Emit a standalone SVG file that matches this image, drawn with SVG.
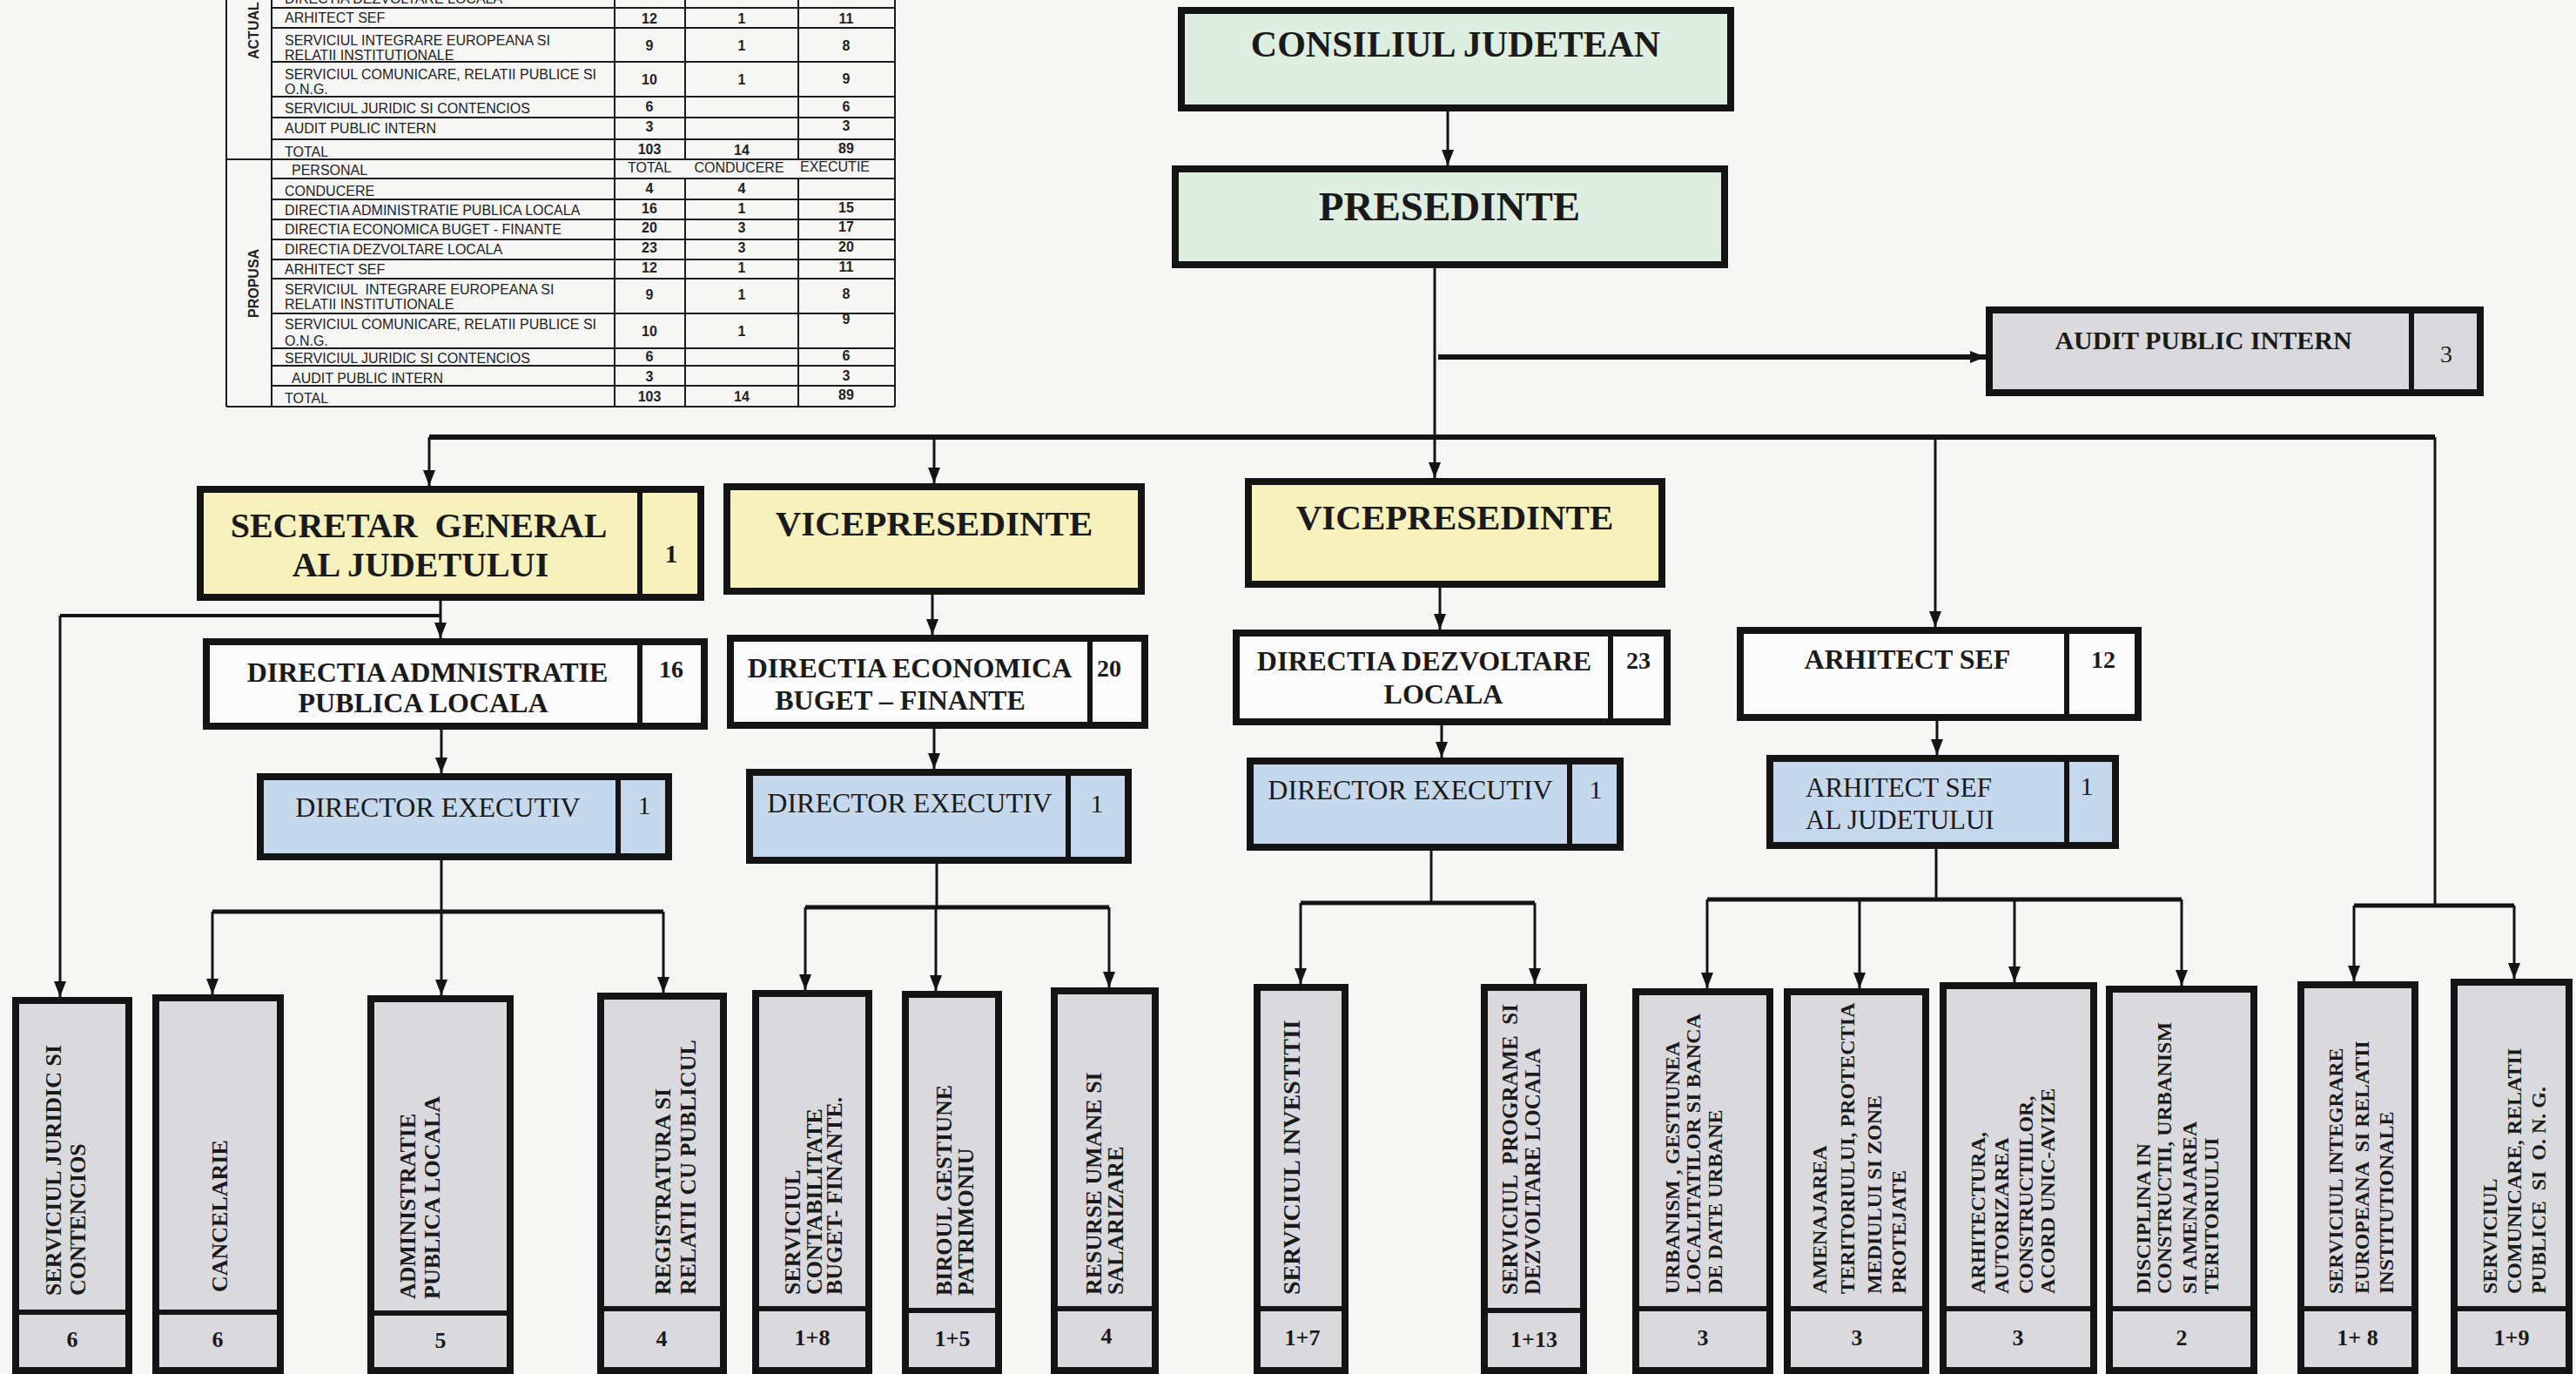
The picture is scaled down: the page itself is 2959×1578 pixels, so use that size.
<svg xmlns="http://www.w3.org/2000/svg" width="2959" height="1578" viewBox="0 0 2959 1578">
<defs>
<style>
.bg{fill:#f6f6f5}
.box{stroke:#141414;stroke-width:8}
.g{fill:#deeee0}.y{fill:#f7f2bd}.b{fill:#c6d9ec}.w{fill:#fbfbfb}.gr{fill:#dadade}
.dv{stroke:#141414;stroke-width:6}
.t{font-family:"Liberation Serif","Times New Roman",serif;font-weight:bold;fill:#1a1a1a}
.rg{font-weight:normal}
.pre{white-space:pre}
.c{fill:none;stroke:#141414;stroke-width:3}
.ca{fill:none;stroke:#141414;stroke-width:3;marker-end:url(#ah)}
.bus{fill:none;stroke:#141414;stroke-width:6}
.bus5{fill:none;stroke:#141414;stroke-width:5}
.tl{stroke:#1a1a1a;stroke-width:2}
.tx{font-family:"Liberation Sans",Arial,sans-serif;font-size:16px;fill:#222}
.tn{font-family:"Liberation Sans",Arial,sans-serif;font-size:16px;font-weight:bold;fill:#222;text-anchor:middle}
.th{font-family:"Liberation Sans",Arial,sans-serif;font-size:16px;fill:#222;text-anchor:middle}
.tv{font-family:"Liberation Sans",Arial,sans-serif;font-size:16px;font-weight:bold;fill:#222}
.m{text-anchor:middle}
</style>
<marker id="ah" viewBox="0 0 18 14" refX="18" refY="7" markerWidth="18" markerHeight="14" markerUnits="userSpaceOnUse" orient="auto"><path d="M0,0 L18,7 L0,14 z" fill="#141414"/></marker>
</defs>
<rect class="bg" x="0" y="0" width="2959" height="1578"/>

<!-- TABLE -->
<g id="table">
<line class="tl" x1="260" y1="0" x2="260" y2="467"/>
<line class="tl" x1="312" y1="0" x2="312" y2="467"/>
<line class="tl" x1="1028" y1="0" x2="1028" y2="467"/>
<line class="tl" x1="706" y1="0" x2="706" y2="467"/>
<line class="tl" x1="787" y1="0" x2="787" y2="183"/>
<line class="tl" x1="917" y1="0" x2="917" y2="183"/>
<line class="tl" x1="787" y1="205" x2="787" y2="467"/>
<line class="tl" x1="917" y1="205" x2="917" y2="467"/>
<line class="tl" x1="312" y1="9" x2="1028" y2="9"/>
<line class="tl" x1="312" y1="32" x2="1028" y2="32"/>
<line class="tl" x1="312" y1="71" x2="1028" y2="71"/>
<line class="tl" x1="312" y1="111" x2="1028" y2="111"/>
<line class="tl" x1="312" y1="135" x2="1028" y2="135"/>
<line class="tl" x1="312" y1="160" x2="1028" y2="160"/>
<line class="tl" x1="260" y1="183" x2="1028" y2="183"/>
<line class="tl" x1="312" y1="205" x2="1028" y2="205"/>
<line class="tl" x1="312" y1="229" x2="1028" y2="229"/>
<line class="tl" x1="312" y1="252" x2="1028" y2="252"/>
<line class="tl" x1="312" y1="275" x2="1028" y2="275"/>
<line class="tl" x1="312" y1="298" x2="1028" y2="298"/>
<line class="tl" x1="312" y1="320" x2="1028" y2="320"/>
<line class="tl" x1="312" y1="360" x2="1028" y2="360"/>
<line class="tl" x1="312" y1="400" x2="1028" y2="400"/>
<line class="tl" x1="312" y1="420" x2="1028" y2="420"/>
<line class="tl" x1="312" y1="443" x2="1028" y2="443"/>
<line class="tl" x1="260" y1="467" x2="1028" y2="467"/>

<text class="tv" transform="translate(297,68) rotate(-90)" font-size="15">ACTUAL</text>
<text class="tv" transform="translate(297,365) rotate(-90)">PROPUSA</text>

<text class="tx" x="327" y="4">DIRECTIA DEZVOLTARE LOCALA</text>
<text class="tx" x="327" y="26">ARHITECT SEF</text>
<text class="tn" x="746" y="27">12</text><text class="tn" x="852" y="27">1</text><text class="tn" x="972" y="27">11</text>
<text class="tx" x="327" y="52">SERVICIUL INTEGRARE EUROPEANA SI</text>
<text class="tx" x="327" y="69">RELATII INSTITUTIONALE</text>
<text class="tn" x="746" y="58">9</text><text class="tn" x="852" y="58">1</text><text class="tn" x="972" y="58">8</text>
<text class="tx" x="327" y="91">SERVICIUL COMUNICARE, RELATII PUBLICE SI</text>
<text class="tx" x="327" y="108">O.N.G.</text>
<text class="tn" x="746" y="97">10</text><text class="tn" x="852" y="97">1</text><text class="tn" x="972" y="96">9</text>
<text class="tx" x="327" y="130">SERVICIUL JURIDIC SI CONTENCIOS</text>
<text class="tn" x="746" y="128">6</text><text class="tn" x="972" y="128">6</text>
<text class="tx" x="327" y="153">AUDIT PUBLIC INTERN</text>
<text class="tn" x="746" y="151">3</text><text class="tn" x="972" y="150">3</text>
<text class="tx" x="327" y="180">TOTAL</text>
<text class="tn" x="746" y="177">103</text><text class="tn" x="852" y="178">14</text><text class="tn" x="972" y="176">89</text>

<text class="tx" x="335" y="201">PERSONAL</text>
<text class="th" x="746" y="198">TOTAL</text><text class="th" x="849" y="198">CONDUCERE</text><text class="th" x="959" y="197">EXECUTIE</text>
<text class="tx" x="327" y="225">CONDUCERE</text>
<text class="tn" x="746" y="222">4</text><text class="tn" x="852" y="222">4</text>
<text class="tx" x="327" y="247">DIRECTIA ADMINISTRATIE PUBLICA LOCALA</text>
<text class="tn" x="746" y="245">16</text><text class="tn" x="852" y="245">1</text><text class="tn" x="972" y="244">15</text>
<text class="tx" x="327" y="269">DIRECTIA ECONOMICA BUGET - FINANTE</text>
<text class="tn" x="746" y="267">20</text><text class="tn" x="852" y="267">3</text><text class="tn" x="972" y="266">17</text>
<text class="tx" x="327" y="292">DIRECTIA DEZVOLTARE LOCALA</text>
<text class="tn" x="746" y="290">23</text><text class="tn" x="852" y="290">3</text><text class="tn" x="972" y="289">20</text>
<text class="tx" x="327" y="315">ARHITECT SEF</text>
<text class="tn" x="746" y="313">12</text><text class="tn" x="852" y="313">1</text><text class="tn" x="972" y="312">11</text>
<text class="tx pre" x="327" y="338">SERVICIUL  INTEGRARE EUROPEANA SI</text>
<text class="tx" x="327" y="355">RELATII INSTITUTIONALE</text>
<text class="tn" x="746" y="344">9</text><text class="tn" x="852" y="344">1</text><text class="tn" x="972" y="343">8</text>
<text class="tx" x="327" y="378">SERVICIUL COMUNICARE, RELATII PUBLICE SI</text>
<text class="tx" x="327" y="397">O.N.G.</text>
<text class="tn" x="746" y="386">10</text><text class="tn" x="852" y="386">1</text><text class="tn" x="972" y="372">9</text>
<text class="tx" x="327" y="417">SERVICIUL JURIDIC SI CONTENCIOS</text>
<text class="tn" x="746" y="415">6</text><text class="tn" x="972" y="414">6</text>
<text class="tx" x="335" y="440">AUDIT PUBLIC INTERN</text>
<text class="tn" x="746" y="438">3</text><text class="tn" x="972" y="437">3</text>
<text class="tx" x="327" y="463">TOTAL</text>
<text class="tn" x="746" y="461">103</text><text class="tn" x="852" y="461">14</text><text class="tn" x="972" y="459">89</text>
</g>

<!-- CONNECTORS -->
<g id="connectors">
<path class="ca" d="M1663,128 V190"/>
<path class="ca" d="M1648,308 V549"/>
<path class="bus" style="marker-end:url(#ah)" d="M1652,410 H2281"/>
<path class="bus" d="M493,502 H2797"/>
<path class="ca" d="M493,502 V558"/>
<path class="ca" d="M1073,502 V555"/>
<path class="ca" d="M2223,502 V720"/>
<path class="c" d="M2797,502 V1040"/>
<path class="bus5" d="M2704,1040 H2888"/>
<path class="ca" d="M2704,1040 V1127"/>
<path class="ca" d="M2888,1040 V1124"/>
<path class="ca" d="M506,690 V733"/>
<path class="c" style="stroke-width:4" d="M69,707 H506"/>
<path class="ca" d="M69,707 V1145"/>
<path class="ca" d="M1071,683 V729"/>
<path class="ca" d="M507,838 V888"/>
<path class="ca" d="M1073,837 V883"/>
<path class="c" d="M507,988 V1047"/>
<path class="bus5" d="M244,1047 H762"/>
<path class="ca" d="M244,1047 V1142"/>
<path class="ca" d="M507,1047 V1143"/>
<path class="ca" d="M762,1047 V1140"/>
<path class="c" d="M1076,992 V1042"/>
<path class="bus5" d="M925,1042 H1274"/>
<path class="ca" d="M925,1042 V1137"/>
<path class="ca" d="M1075,1042 V1138"/>
<path class="ca" d="M1274,1042 V1134"/>
<path class="ca" d="M1654,675 V723"/>
<path class="ca" d="M1656,833 V870"/>
<path class="c" d="M1644,977 V1037"/>
<path class="bus5" d="M1494,1037 H1763"/>
<path class="ca" d="M1494,1037 V1130"/>
<path class="ca" d="M1763,1037 V1130"/>
<path class="ca" d="M2225,828 V867"/>
<path class="c" d="M2224,975 V1033"/>
<path class="bus5" d="M1961,1033 H2506"/>
<path class="ca" d="M1961,1033 V1135"/>
<path class="ca" d="M2136,1033 V1135"/>
<path class="ca" d="M2314,1033 V1128"/>
<path class="ca" d="M2506,1033 V1132"/>
</g>

<!-- TOP NODES -->
<g id="consiliul">
<rect class="box g" x="1357" y="12" width="631" height="112"/>
<text class="t m" x="1672" y="65" font-size="42">CONSILIUL JUDETEAN</text>
</g>
<g id="presedinte">
<rect class="box g" x="1350" y="194" width="631" height="110"/>
<text class="t m" x="1665" y="253" font-size="47">PRESEDINTE</text>
</g>
<g id="audit">
<rect class="box gr" x="2285" y="356" width="564" height="95"/>
<line class="dv" x1="2770" y1="356" x2="2770" y2="451"/>
<text class="t m" x="2531" y="401" font-size="30">AUDIT PUBLIC INTERN</text>
<text class="t rg m" x="2810" y="416" font-size="28">3</text>
</g>

<!-- SECOND LEVEL -->
<g id="secretar">
<rect class="box y" x="230" y="562" width="575" height="124"/>
<line class="dv" x1="735" y1="562" x2="735" y2="686"/>
<text class="t m pre" x="481" y="617" font-size="40">SECRETAR  GENERAL</text>
<text class="t m" x="483" y="662" font-size="40">AL JUDETULUI</text>
<text class="t m" x="771" y="646" font-size="30">1</text>
</g>
<g id="vice1">
<rect class="box y" x="835" y="559" width="476" height="120"/>
<text class="t m" x="1073" y="615" font-size="41">VICEPRESEDINTE</text>
</g>
<g id="vice2">
<rect class="box y" x="1434" y="553" width="475" height="118"/>
<text class="t m" x="1671" y="608" font-size="41">VICEPRESEDINTE</text>
</g>

<!-- DIRECTIONS -->
<g id="dir-adm">
<rect class="box w" x="237" y="737" width="572" height="97"/>
<line class="dv" x1="735" y1="737" x2="735" y2="834"/>
<text class="t m" x="491" y="783" font-size="32">DIRECTIA ADMNISTRATIE</text>
<text class="t m" x="486" y="818" font-size="32">PUBLICA LOCALA</text>
<text class="t m" x="771" y="778" font-size="28">16</text>
</g>
<g id="dir-econ">
<rect class="box w" x="839" y="733" width="476" height="100"/>
<line class="dv" x1="1252" y1="733" x2="1252" y2="833"/>
<text class="t m" x="1045" y="778" font-size="32">DIRECTIA ECONOMICA</text>
<text class="t m" x="1034" y="815" font-size="32">BUGET – FINANTE</text>
<text class="t m" x="1274" y="777" font-size="28">20</text>
</g>
<g id="dir-dezv">
<rect class="box w" x="1420" y="727" width="495" height="102"/>
<line class="dv" x1="1850" y1="727" x2="1850" y2="829"/>
<text class="t m" x="1636" y="770" font-size="32">DIRECTIA DEZVOLTARE</text>
<text class="t m" x="1658" y="808" font-size="32">LOCALA</text>
<text class="t m" x="1882" y="768" font-size="28">23</text>
</g>
<g id="arhitect-sef">
<rect class="box w" x="1999" y="724" width="457" height="100"/>
<line class="dv" x1="2374" y1="724" x2="2374" y2="824"/>
<text class="t m" x="2191" y="768" font-size="32">ARHITECT SEF</text>
<text class="t m" x="2416" y="767" font-size="28">12</text>
</g>

<!-- EXECUTIVE LEVEL -->
<g id="director1">
<rect class="box b" x="299" y="892" width="469" height="92"/>
<line class="dv" x1="710" y1="892" x2="710" y2="984"/>
<text class="t rg m" x="503" y="938" font-size="32">DIRECTOR EXECUTIV</text>
<text class="t rg m" x="740" y="935" font-size="30">1</text>
</g>
<g id="director2">
<rect class="box b" x="861" y="887" width="435" height="101"/>
<line class="dv" x1="1227" y1="887" x2="1227" y2="988"/>
<text class="t rg m" x="1045" y="933" font-size="32">DIRECTOR EXECUTIV</text>
<text class="t rg m" x="1260" y="933" font-size="30">1</text>
</g>
<g id="director3">
<rect class="box b" x="1436" y="874" width="425" height="99"/>
<line class="dv" x1="1803" y1="874" x2="1803" y2="973"/>
<text class="t rg m" x="1620" y="918" font-size="32">DIRECTOR EXECUTIV</text>
<text class="t rg m" x="1833" y="917" font-size="30">1</text>
</g>
<g id="arhitect-judet">
<rect class="box b" x="2033" y="871" width="397" height="100"/>
<line class="dv" x1="2374" y1="871" x2="2374" y2="971"/>
<text class="t rg" x="2074" y="915" font-size="31">ARHITECT SEF</text>
<text class="t rg" x="2074" y="952" font-size="31">AL JUDETULUI</text>
<text class="t rg m" x="2397" y="913" font-size="30">1</text>
</g>

<!-- BOTTOM SERVICES -->
<g id="s1">
<rect class="box gr" x="18" y="1149" width="130" height="425"/>
<line class="dv" x1="18" y1="1507" x2="148" y2="1507"/>
<text class="t" font-size="26" transform="translate(70,1488) rotate(-90)">SERVICIUL JURIDIC SI</text>
<text class="t" font-size="26" transform="translate(98,1488) rotate(-90)">CONTENCIOS</text>
<text class="t m" x="83" y="1547" font-size="26">6</text>
</g>
<g id="s2">
<rect class="box gr" x="179" y="1146" width="143" height="428"/>
<line class="dv" x1="179" y1="1507" x2="322" y2="1507"/>
<text class="t" font-size="26" transform="translate(261,1484) rotate(-90)">CANCELARIE</text>
<text class="t m" x="250" y="1547" font-size="26">6</text>
</g>
<g id="s3">
<rect class="box gr" x="426" y="1147" width="160" height="427"/>
<line class="dv" x1="426" y1="1508" x2="586" y2="1508"/>
<text class="t" font-size="26" transform="translate(477,1492) rotate(-90)">ADMINISTRATIE</text>
<text class="t" font-size="26" transform="translate(505,1492) rotate(-90)">PUBLICA LOCALA</text>
<text class="t m" x="506" y="1548" font-size="26">5</text>
</g>
<g id="s4">
<rect class="box gr" x="690" y="1144" width="141" height="430"/>
<line class="dv" x1="690" y1="1503" x2="831" y2="1503"/>
<text class="t" font-size="26" transform="translate(770,1487) rotate(-90)">REGISTRATURA SI</text>
<text class="t" font-size="26" transform="translate(799,1487) rotate(-90)">RELATII CU PUBLICUL</text>
<text class="t m" x="760" y="1546" font-size="26">4</text>
</g>
<g id="s5">
<rect class="box gr" x="868" y="1141" width="130" height="433"/>
<line class="dv" x1="868" y1="1503" x2="998" y2="1503"/>
<text class="t" font-size="26" transform="translate(919,1487) rotate(-90)">SERVICIUL</text>
<text class="t" font-size="26" transform="translate(944,1487) rotate(-90)">CONTABILITATE</text>
<text class="t" font-size="26" transform="translate(967,1487) rotate(-90)">BUGET- FINANTE.</text>
<text class="t m" x="933" y="1545" font-size="26">1+8</text>
</g>
<g id="s6">
<rect class="box gr" x="1040" y="1142" width="107" height="432"/>
<line class="dv" x1="1040" y1="1505" x2="1147" y2="1505"/>
<text class="t" font-size="26" transform="translate(1093,1488) rotate(-90)">BIROUL GESTIUNE</text>
<text class="t" font-size="26" transform="translate(1118,1488) rotate(-90)">PATRIMONIU</text>
<text class="t m" x="1094" y="1546" font-size="26">1+5</text>
</g>
<g id="s7">
<rect class="box gr" x="1211" y="1138" width="116" height="436"/>
<line class="dv" x1="1211" y1="1503" x2="1327" y2="1503"/>
<text class="t" font-size="26" transform="translate(1265,1487) rotate(-90)">RESURSE UMANE SI</text>
<text class="t" font-size="26" transform="translate(1290,1487) rotate(-90)">SALARIZARE</text>
<text class="t m" x="1271" y="1543" font-size="26">4</text>
</g>
<g id="s8">
<rect class="box gr" x="1444" y="1134" width="101" height="440"/>
<line class="dv" x1="1444" y1="1503" x2="1545" y2="1503"/>
<text class="t" font-size="28" transform="translate(1493,1487) rotate(-90)">SERVICIUL INVESTITII</text>
<text class="t m" x="1496" y="1545" font-size="26">1+7</text>
</g>
<g id="s9">
<rect class="box gr" x="1705" y="1134" width="114" height="440"/>
<line class="dv" x1="1705" y1="1505" x2="1819" y2="1505"/>
<text class="t pre" font-size="25" transform="translate(1743,1487) rotate(-90)">SERVICIUL  PROGRAME  SI</text>
<text class="t" font-size="25" transform="translate(1769,1487) rotate(-90)">DEZVOLTARE LOCALA</text>
<text class="t m" x="1762" y="1547" font-size="26">1+13</text>
</g>
<g id="s10">
<rect class="box gr" x="1879" y="1139" width="154" height="435"/>
<line class="dv" x1="1879" y1="1503" x2="2033" y2="1503"/>
<text class="t" font-size="24" transform="translate(1929,1486) rotate(-90)">URBANISM , GESTIUNEA</text>
<text class="t" font-size="24" transform="translate(1953,1486) rotate(-90)">LOCALITATILOR SI BANCA</text>
<text class="t" font-size="24" transform="translate(1978,1486) rotate(-90)">DE DATE URBANE</text>
<text class="t m" x="1956" y="1545" font-size="26">3</text>
</g>
<g id="s11">
<rect class="box gr" x="2053" y="1139" width="159" height="435"/>
<line class="dv" x1="2053" y1="1503" x2="2212" y2="1503"/>
<text class="t" font-size="24" transform="translate(2098,1486) rotate(-90)">AMENAJAREA</text>
<text class="t" font-size="24" transform="translate(2130,1486) rotate(-90)">TERITORIULUI, PROTECTIA</text>
<text class="t" font-size="24" transform="translate(2161,1486) rotate(-90)">MEDIULUI SI ZONE</text>
<text class="t" font-size="24" transform="translate(2189,1486) rotate(-90)">PROTEJATE</text>
<text class="t m" x="2133" y="1545" font-size="26">3</text>
</g>
<g id="s12">
<rect class="box gr" x="2232" y="1132" width="173" height="442"/>
<line class="dv" x1="2232" y1="1503" x2="2405" y2="1503"/>
<text class="t" font-size="24" transform="translate(2280,1486) rotate(-90)">ARHITECTURA,</text>
<text class="t" font-size="24" transform="translate(2307,1486) rotate(-90)">AUTORIZAREA</text>
<text class="t" font-size="24" transform="translate(2335,1486) rotate(-90)">CONSTRUCTIILOR,</text>
<text class="t" font-size="24" transform="translate(2360,1486) rotate(-90)">ACORD UNIC-AVIZE</text>
<text class="t m" x="2318" y="1545" font-size="26">3</text>
</g>
<g id="s13">
<rect class="box gr" x="2423" y="1136" width="166" height="438"/>
<line class="dv" x1="2423" y1="1503" x2="2589" y2="1503"/>
<text class="t" font-size="24" transform="translate(2470,1486) rotate(-90)">DISCIPLINA IN</text>
<text class="t" font-size="24" transform="translate(2494,1486) rotate(-90)">CONSTRUCTII, URBANISM</text>
<text class="t" font-size="24" transform="translate(2523,1486) rotate(-90)">SI AMENAJAREA</text>
<text class="t" font-size="24" transform="translate(2548,1486) rotate(-90)">TERITORIULUI</text>
<text class="t m" x="2506" y="1545" font-size="26">2</text>
</g>
<g id="s14">
<rect class="box gr" x="2643" y="1131" width="131" height="443"/>
<line class="dv" x1="2643" y1="1503" x2="2774" y2="1503"/>
<text class="t" font-size="24" transform="translate(2691,1486) rotate(-90)">SERVICIUL INTEGRARE</text>
<text class="t pre" font-size="24" transform="translate(2721,1486) rotate(-90)">EUROPEANA  SI RELATII</text>
<text class="t" font-size="24" transform="translate(2749,1486) rotate(-90)">INSTITUTIONALE</text>
<text class="t m pre" x="2708" y="1545" font-size="26">1+ 8</text>
</g>
<g id="s15">
<rect class="box gr" x="2819" y="1128" width="132" height="446"/>
<line class="dv" x1="2819" y1="1503" x2="2951" y2="1503"/>
<text class="t" font-size="24" transform="translate(2868,1486) rotate(-90)">SERVICIUL</text>
<text class="t" font-size="24" transform="translate(2896,1486) rotate(-90)">COMUNICARE, RELATII</text>
<text class="t pre" font-size="24" transform="translate(2924,1486) rotate(-90)">PUBLICE  SI  O. N. G.</text>
<text class="t m" x="2885" y="1545" font-size="26">1+9</text>
</g>
</svg>
